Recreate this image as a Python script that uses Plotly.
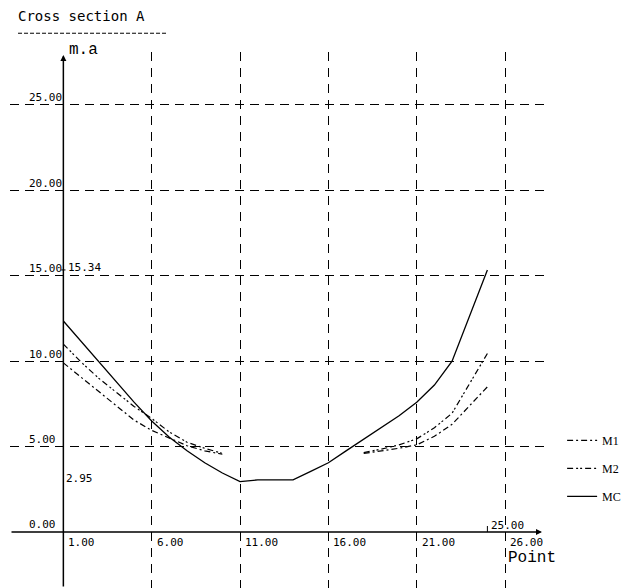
import plotly.graph_objects as go

# ---------------- data ----------------
points = list(range(1, 26))
mc = [12.35, 11.15, 9.95, 8.75, 7.6, 6.5, 5.55, 4.75, 4.05, 3.45, 2.95, 3.05, 3.05,
      3.05, 3.55, 4.05, 4.75, 5.45, 6.1, 6.8, 7.6, 8.6, 10.0, 12.65, 15.34]
m1 = [9.9, 9.05, 8.2, 7.4, 6.55, 5.95, 5.5, 5.05, 4.75, 4.55,
      None, None, None, None, None, None, None,
      4.6, 4.75, 4.9, 5.1, 5.6, 6.3, 7.4, 8.5]
m2 = [11.0, 9.95, 9.0, 8.15, 7.35, 6.65, 5.85, 5.25, 4.9, 4.6,
      None, None, None, None, None, None, None,
      4.65, 4.85, 5.1, 5.45, 6.1, 6.95, 8.7, 10.45]
x_ticks = [1, 6, 11, 16, 21, 26]
y_ticks = [0, 5, 10, 15, 20, 25]
x_tick_labels = ["1.00", "6.00", "11.00", "16.00", "21.00", "26.00"]
y_tick_labels = ["0.00", "5.00", "10.00", "15.00", "20.00", "25.00"]
title_text = "Cross section A"
x_title = "Point"
y_title = "m.a"

XR = [-2.02, 28.26]
YR = [-3.28, 28.10]
mono = "DejaVu Sans Mono"

fig = go.Figure()
fig.add_trace(go.Scatter(x=points, y=m1, mode="lines", name="M1", legendgroup="a",
                         line=dict(color="black", width=1.2, dash="6px,3px,2px,3px"),
                         connectgaps=False))
fig.add_trace(go.Scatter(x=points, y=m2, mode="lines", name="M2", legendgroup="b",
                         line=dict(color="black", width=1.2, dash="6px,3px,2px,2px,2px,3px"),
                         connectgaps=False))
fig.add_trace(go.Scatter(x=points, y=mc, mode="lines", name="MC", legendgroup="c",
                         line=dict(color="black", width=1.3)))

ann = []
# y tick labels
for v, t in zip(y_ticks, y_tick_labels):
    ann.append(dict(x=-1.05, y=v, xref="x", yref="y", text=t, showarrow=False,
                    xanchor="left", yanchor="middle", yshift=7,
                    font=dict(family=mono, size=11, color="black")))
# x tick labels
for v, t in zip(x_ticks, x_tick_labels):
    ann.append(dict(x=v, y=0, xref="x", yref="y", text=t, showarrow=False,
                    xanchor="left", yanchor="middle", xshift=3, yshift=-11,
                    font=dict(family=mono, size=11, color="black")))
# special values
ymax = max(mc)
ymin = min(mc)
xlast = points[-1]
ann.append(dict(x=1, y=ymax, xref="x", yref="y", text=f"{ymax:.2f}", showarrow=False,
                xanchor="left", yanchor="middle", xshift=3, yshift=2,
                font=dict(family=mono, size=11, color="black")))
ann.append(dict(x=1, y=ymin, xref="x", yref="y", text=f"{ymin:.2f}", showarrow=False,
                xanchor="left", yanchor="middle", xshift=1, yshift=3,
                font=dict(family=mono, size=11, color="black")))
ann.append(dict(x=xlast, y=0, xref="x", yref="y", text=f"{xlast:.2f}", showarrow=False,
                xanchor="left", yanchor="middle", xshift=2, yshift=6,
                font=dict(family=mono, size=11, color="black")))
# axis titles
ann.append(dict(x=26, y=0, xref="x", yref="y", text=x_title, showarrow=False,
                xanchor="left", yanchor="middle", xshift=1, yshift=-26,
                font=dict(family="Liberation Mono", size=16, color="black")))
ann.append(dict(x=1, y=1.004, xref="x", yref="paper", text=y_title, showarrow=False,
                xanchor="left", yanchor="middle", xshift=4,
                font=dict(family="Liberation Mono", size=16, color="black")))
# axis arrows
ann.append(dict(x=1, y=27.93, ax=1, ay=YR[0], xref="x", yref="y", axref="x", ayref="y",
                text="", showarrow=True, arrowhead=2, arrowsize=0.8, arrowwidth=1.5,
                arrowcolor="black", standoff=0, startstandoff=0))
ann.append(dict(x=28.09, y=0, ax=XR[0], ay=0, xref="x", yref="y", axref="x", ayref="y",
                text="", showarrow=True, arrowhead=2, arrowsize=0.8, arrowwidth=1.5,
                arrowcolor="black", standoff=0, startstandoff=0))

shapes = [
    # title underline
    dict(type="line", xref="paper", yref="paper", x0=0.015, x1=0.2935, y0=1.035, y1=1.035,
         line=dict(color="black", width=1, dash="4px,2px")),
    # small ticks
    dict(type="line", xref="x", yref="y", x0=xlast, x1=xlast, y0=0, y1=0.35,
         line=dict(color="black", width=1)),
    dict(type="line", xref="x", yref="y", x0=0.88, x1=1.12, y0=ymax, y1=ymax,
         line=dict(color="black", width=1)),
]

fig.update_layout(
    width=635, height=588,
    margin=dict(l=2, r=98, t=44, b=8),
    paper_bgcolor="white", plot_bgcolor="white",
    title=dict(text=title_text, x=10 / 635, xanchor="left", xref="container",
               y=1 - 8 / 588, yanchor="middle", yref="container",
               font=dict(family=mono, size=14, color="black")),
    xaxis=dict(range=XR, tickvals=x_ticks[1:], showticklabels=False, ticks="",
               showgrid=True, gridcolor="black", gridwidth=1.4, griddash="9px,7px",
               zeroline=False, showline=False),
    yaxis=dict(range=YR, tickvals=y_ticks[1:], showticklabels=False, ticks="",
               showgrid=True, gridcolor="black", gridwidth=1.4, griddash="9px,6px",
               zeroline=False, showline=False),
    legend=dict(x=1.032, xanchor="left", y=0.3025, yanchor="top",
                font=dict(family="Liberation Serif", size=12, color="black"),
                tracegroupgap=9, bgcolor="rgba(0,0,0,0)"),
    annotations=ann, shapes=shapes,
)

fig.write_html("out.html")
